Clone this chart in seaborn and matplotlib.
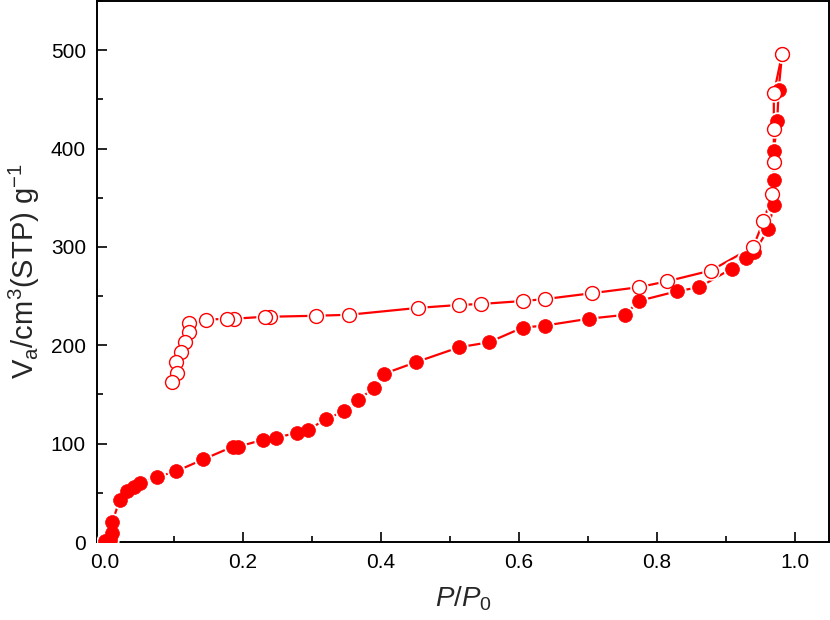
import numpy as np
import pandas as pd
import seaborn as sns
import matplotlib.pyplot as plt
from matplotlib.ticker import MultipleLocator

# adsorption branch (filled)
ads_p = [0.001, 0.008, 0.011, 0.011, 0.022, 0.033, 0.042, 0.051, 0.076, 0.104,
         0.143, 0.186, 0.194, 0.230, 0.248, 0.279, 0.295, 0.321, 0.347, 0.367,
         0.391, 0.405, 0.452, 0.514, 0.557, 0.606, 0.638, 0.702, 0.755, 0.774,
         0.830, 0.862, 0.909, 0.930, 0.942, 0.962, 0.970, 0.970, 0.970, 0.975,
         0.977, 0.982]
ads_v = [1, 2, 9, 20, 43, 52, 56, 60, 66, 72,
         84, 97, 97, 104, 106, 111, 114, 125, 133, 144,
         157, 171, 183, 198, 203, 218, 220, 227, 231, 245,
         255, 259, 278, 289, 295, 318, 343, 368, 397, 428,
         460, 496]

# desorption branch (open)
des_p = [0.982, 0.970, 0.970, 0.970, 0.968, 0.955, 0.940, 0.879, 0.815, 0.774,
         0.707, 0.639, 0.606, 0.546, 0.514, 0.454, 0.354, 0.306, 0.239, 0.232,
         0.188, 0.178, 0.147, 0.123, 0.123, 0.117, 0.110, 0.103, 0.105, 0.098]
des_v = [496, 456, 420, 386, 354, 326, 300, 276, 265, 259,
         253, 247, 245, 242, 241, 238, 231, 230, 229, 229,
         227, 227, 226, 223, 213, 203, 193, 183, 172, 163]

sns.set_style("ticks")
plt.rcParams['font.family'] = ['Liberation Sans', 'DejaVu Sans']
plt.rcParams['mathtext.fontset'] = 'custom'
plt.rcParams['mathtext.rm'] = 'Liberation Sans'
plt.rcParams['mathtext.it'] = 'Liberation Sans:italic'

fig = plt.figure(figsize=(8.3, 6.2), dpi=100)
ax = fig.add_axes([0.1169, 0.1258, 0.8819, 0.8726])

red = '#ff0000'
for p, v, filled in [(ads_p, ads_v, True), (des_p, des_v, False)]:
    sns.lineplot(x=p, y=v, sort=False, estimator=None, color=red, lw=1.6, ax=ax, zorder=2)
    # white halo so the line stops short of each marker
    sns.scatterplot(x=p, y=v, s=175, color='white', linewidth=0, ax=ax, zorder=3)
    if filled:
        sns.scatterplot(x=p, y=v, s=100, color=red, edgecolor=red, linewidth=0.5, ax=ax, zorder=4)
    else:
        sns.scatterplot(x=p, y=v, s=100, color='white', edgecolor=red, linewidth=1.0, ax=ax, zorder=5)

ax.set_xlim(-0.011, 1.05)
ax.set_ylim(0, 550)
ax.xaxis.set_major_locator(MultipleLocator(0.2))
ax.xaxis.set_minor_locator(MultipleLocator(0.1))
ax.yaxis.set_major_locator(MultipleLocator(100))
ax.yaxis.set_minor_locator(MultipleLocator(50))
ax.set_xticklabels([f'{t:.1f}' for t in ax.get_xticks()])
ax.set_xlim(-0.011, 1.05)

ax.tick_params(which='both', direction='in', top=False, right=False, width=1.2,
               labelsize=15, pad=8, colors='black')
ax.tick_params(which='major', length=7)
ax.tick_params(which='minor', length=4)
for s in ax.spines.values():
    s.set_linewidth(1.4)
    s.set_color('black')

ax.set_xlabel(r'$P/P_0$', fontsize=20, labelpad=9)
ax.set_ylabel(r'V$_\mathrm{a}$/cm$^3$(STP) g$^{-1}$', fontsize=21, labelpad=6)

fig.savefig('out.png', dpi=100)
